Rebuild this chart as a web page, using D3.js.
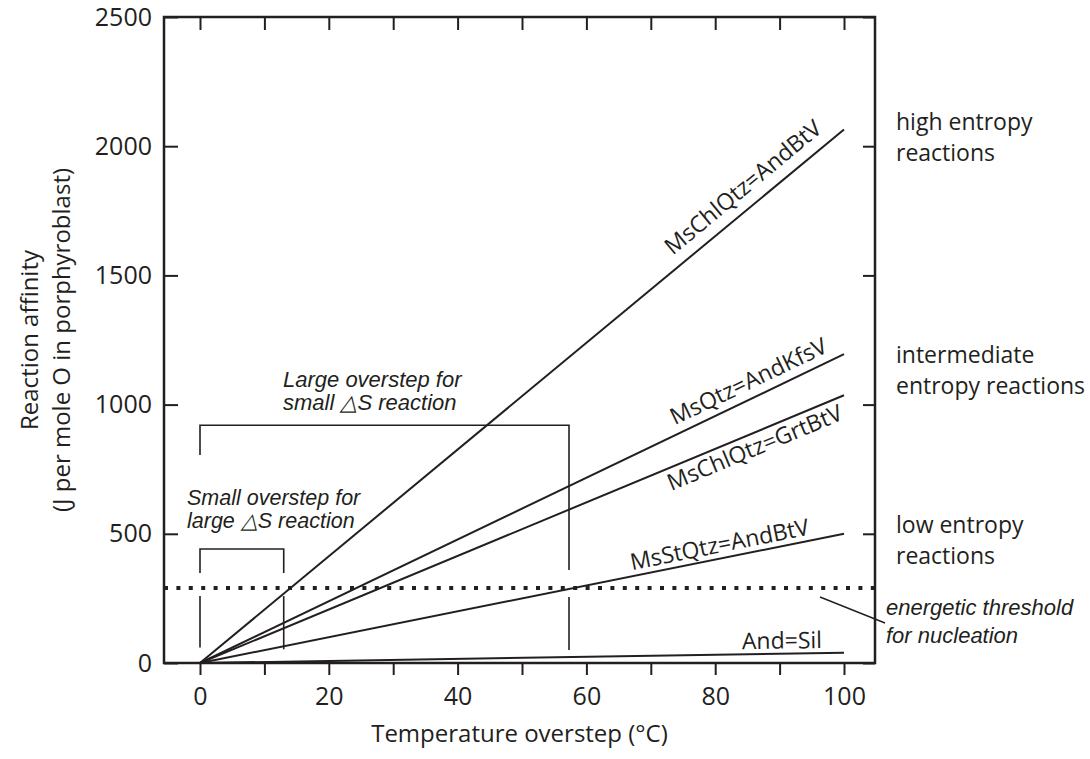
<!DOCTYPE html>
<html><head><meta charset="utf-8">
<script src="https://cdn.jsdelivr.net/npm/d3@7"></script>
<style>body{margin:0;background:#fff}</style>
</head><body>
<script>
// ---- data ----
const reactions = ["MsChlQtz=AndBtV","MsQtz=AndKfsV","MsChlQtz=GrtBtV","MsStQtz=AndBtV","And=Sil"];
const affinityAt100 = [2065, 1195, 1036, 500, 40];
const xTicks = [0,20,40,60,80,100];
const yTicks = [0,500,1000,1500,2000,2500];
const threshold = 290;
const smallOverstep = 13;
const largeOverstep = 57.3;
const sideNotes = [["high entropy","reactions"],["intermediate","entropy reactions"],["low entropy","reactions"]];

const W=1090,H=759;
const svg=d3.select("body").append("svg").attr("width",W).attr("height",H);
const x=d3.scaleLinear().domain([0,100]).range([200,844]);
const y=d3.scaleLinear().domain([0,2500]).range([663,17]);
const xL=x.invert(164), xR=x.invert(875);
const ink="#231f20";
const sans="'Open Sans', sans-serif", ital="'Liberation Sans', Arial, sans-serif";

// frame
svg.append("rect").attr("x",x(xL)).attr("y",y(2500)).attr("width",x(xR)-x(xL)).attr("height",y(0)-y(2500))
  .attr("fill","none").attr("stroke",ink).attr("stroke-width",2.5);

// axes
const minorX=d3.range(0,101,10);
const gB=svg.append("g").attr("transform",`translate(0,${y(0)})`)
  .call(d3.axisBottom(x).tickValues(minorX).tickSize(12).tickPadding(6).tickFormat(d=>xTicks.includes(d)?d:""));
const gT=svg.append("g").attr("transform",`translate(0,${y(2500)})`)
  .call(d3.axisTop(x).tickValues(minorX).tickSize(-13).tickFormat(""));
const gLft=svg.append("g").attr("transform",`translate(${x(xL)},0)`)
  .call(d3.axisLeft(y).tickValues(yTicks).tickSize(-14).tickPadding(12).tickFormat(d3.format("d")));
const gRt=svg.append("g").attr("transform",`translate(${x(xR)},0)`)
  .call(d3.axisRight(y).tickValues(yTicks).tickSize(-12).tickFormat(""));
[gB,gT,gLft,gRt].forEach(g=>{
  g.select(".domain").remove();
  g.selectAll(".tick line").attr("stroke",ink).attr("stroke-width",2);
  g.selectAll(".tick text").attr("fill",ink).style("font-family",sans).style("font-size","25px");
});
gB.selectAll(".tick text").attr("dy","0.95em");

// threshold
svg.append("line").attr("x1",x(xL)).attr("x2",x(xR)).attr("y1",y(threshold)).attr("y2",y(threshold))
  .attr("stroke",ink).attr("stroke-width",4).attr("stroke-dasharray","4,8.4");

// reaction lines
const lineGen=d3.line().x(d=>x(d[0])).y(d=>y(d[1]));
reactions.forEach((r,i)=>{
  svg.append("path").attr("d",lineGen([[0,0],[100,affinityAt100[i]]]))
    .attr("fill","none").attr("stroke",ink).attr("stroke-width",2);
});

// reaction labels (position along line T, perpendicular offset)
const labelT=[86.3,86.3,85.3,81.1,90.4];
const labelOff=[-12,-9,22,-6,-5];
reactions.forEach((r,i)=>{
  const T=labelT[i], v=affinityAt100[i];
  const ang=Math.atan2(y(v)-y(0),x(100)-x(0));
  const px=x(T), py=y(v*T/100);
  const ox=-Math.sin(ang)*labelOff[i], oy=Math.cos(ang)*labelOff[i];
  svg.append("text").attr("transform",`translate(${px+ox},${py+oy}) rotate(${ang*180/Math.PI})`)
    .attr("text-anchor","middle").attr("fill",ink).style("font-family",sans).style("font-size","23px").text(r);
});

// brackets
function bracket(T,top,gapTop,gapBot,bottom,leftBottom,leftStop){
  const g=svg.append("g").attr("fill","none").attr("stroke",ink).attr("stroke-width",1.6);
  g.append("path").attr("d",`M${x(0)},${y(leftStop)}V${y(top)}H${x(T)}V${y(gapTop)}`);
  g.append("line").attr("x1",x(T)).attr("x2",x(T)).attr("y1",y(gapBot)).attr("y2",y(bottom));
  if(leftBottom) g.append("line").attr("x1",x(0)).attr("x2",x(0)).attr("y1",y(leftBottom[0])).attr("y2",y(leftBottom[1]));
}
bracket(smallOverstep,441,348,259,53,[259,60],348);
bracket(largeOverstep,920,360,255,50,null,805);

// italic annotations
function multi(lines,xp,yp,size,lh,style,anchor){
  const t=svg.append("text").attr("fill",ink).style("font-family",style).style("font-style","italic")
    .style("font-size",size+"px").attr("text-anchor",anchor||"start");
  lines.forEach((l,i)=>t.append("tspan").attr("x",xp).attr("y",yp+i*lh).text(l));
}
multi(["Large overstep for","small  \u25B3S reaction"],283,387,22,23,ital);
multi(["Small overstep for","large \u25B3S reaction"],187,505,21.5,23,ital);
multi(["energetic threshold","for nucleation"],886,615,22,28,ital);
svg.append("line").attr("x1",820).attr("y1",597).attr("x2",885).attr("y2",623).attr("stroke",ink).attr("stroke-width",1.5);

// side notes
const noteY=[130,363,533];
sideNotes.forEach((n,i)=>{
  const t=svg.append("text").attr("fill",ink).style("font-family",sans).style("font-size","23px");
  n.forEach((l,j)=>t.append("tspan").attr("x",896).attr("y",noteY[i]+j*31).text(l));
});

// axis titles
svg.append("text").attr("x",(x(xL)+x(xR))/2).attr("y",742).attr("text-anchor","middle")
  .attr("fill",ink).style("font-family",sans).style("font-size","24px").text("Temperature overstep (\u00B0C)");
const yt=svg.append("text").attr("transform",`translate(0,${(y(0)+y(2500))/2}) rotate(-90)`).attr("text-anchor","middle")
  .attr("fill",ink).style("font-family",sans).style("font-size","24px");
yt.append("tspan").attr("x",0).attr("y",38).text("Reaction affinity");
yt.append("tspan").attr("x",0).attr("y",70).text("(J per mole O in porphyroblast)");
</script>
</body></html>
